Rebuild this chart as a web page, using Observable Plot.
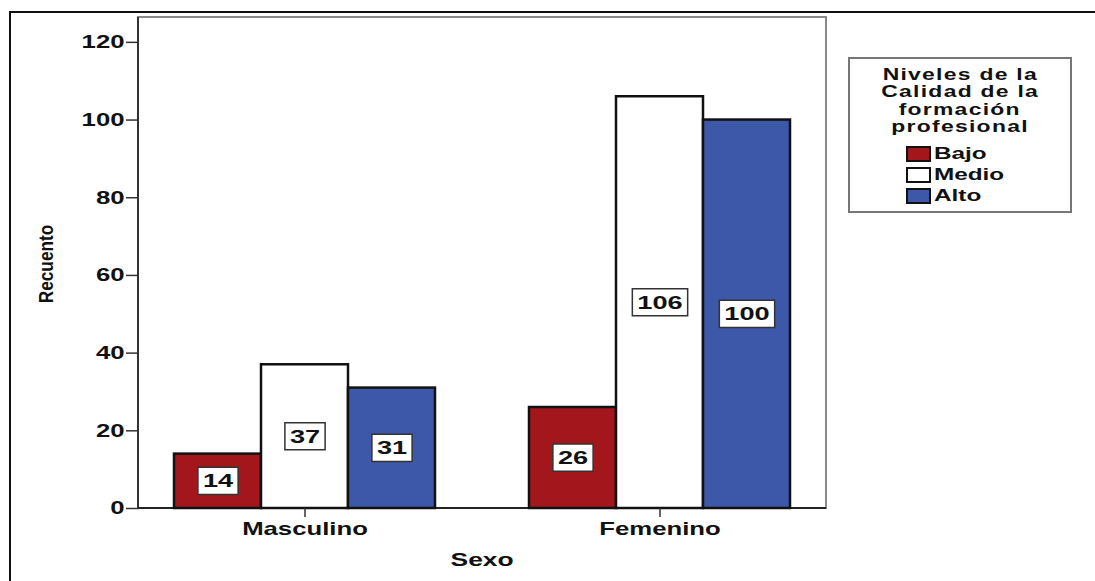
<!DOCTYPE html>
<html>
<head>
<meta charset="utf-8">
<script src="https://cdn.jsdelivr.net/npm/d3@7"></script>
<script src="https://cdn.jsdelivr.net/npm/@observablehq/plot@0.6"></script>
<style>
  html, body { margin: 0; padding: 0; background: #fff; }
  #wrap { position: relative; width: 1095px; height: 581px; overflow: hidden; background: #fff;
          font-family: "Liberation Sans", Arial, sans-serif; font-weight: bold; color: #111; }
  #pageborder { position: absolute; left: 9px; top: 11px; width: 1200px; height: 700px;
                border-left: 2px solid #111; border-top: 2px solid #111; }
  #chart { position: absolute; left: 0; top: 0; }
  .stretch { display: inline-block; transform: scaleX(1.43); white-space: nowrap; }
  #xlabel { position: absolute; left: 138px; width: 688px; top: 549px; text-align: center; font-size: 18.5px; line-height: 22px; }
  #ylabel { position: absolute; left: 46px; top: 264px; transform: translate(-50%, -50%) rotate(-90deg) scaleX(0.82);
            font-family: "Liberation Sans", Arial, sans-serif; font-size: 21px; white-space: nowrap; }
  #legend { position: absolute; left: 848px; top: 57px; width: 224px; height: 156px; box-sizing: border-box;
            border: 2px solid #777; }
  .ltitle { position: absolute; left: 0; width: 220px; text-align: center; font-size: 16px; letter-spacing: 0.9px; line-height: 17.4px; }
  .swatch { position: absolute; width: 25px; height: 16px; box-sizing: border-box; border: 2px solid #111; }
  .ltext { position: absolute; font-size: 17px; line-height: 20px; transform-origin: left center; }
</style>
</head>
<body>
<div id="wrap">
  <div id="pageborder"></div>
  <div id="chart"></div>
  <div id="xlabel"><span class="stretch">Sexo</span></div>
  <div id="ylabel">Recuento</div>
  <div id="legend"></div>
</div>
<script>
// ---- data ----
const sexos = ["Masculino", "Femenino"];
const niveles = ["Bajo", "Medio", "Alto"];
const bajo = [14, 26];
const medio = [37, 106];
const alto = [31, 100];
const colores = ["#A3171C", "#FFFFFF", "#3D58A9"];
const yTicks = [0, 20, 40, 60, 80, 100, 120];
const legendTitle = ["Niveles de la", "Calidad de la", "formación", "profesional"];

const series = [bajo, medio, alto];
const rows = [];
sexos.forEach((s, i) => niveles.forEach((n, j) => rows.push({sexo: s, nivel: n, value: series[j][i]})));

const W = 1095, H = 581, mL = 138, mR = 269, mT = 17, mB = 73;
const STRETCH = 1.43;

const plot = Plot.plot({
  width: W, height: H,
  marginLeft: mL, marginRight: mR, marginTop: mT, marginBottom: mB,
  style: {fontFamily: "'Liberation Sans', Arial, sans-serif", fontWeight: "bold", color: "#111", background: "transparent", overflow: "visible"},
  fx: {domain: sexos, paddingInner: 0.0674, paddingOuter: 0, label: null},
  x: {domain: niveles, paddingInner: 0, paddingOuter: 0.386, axis: null},
  y: {domain: [0, 126.4], label: null},
  color: {domain: niveles, range: colores},
  marks: [
    Plot.barY(rows, {fx: "sexo", x: "nivel", y: "value", fill: "nivel", stroke: "#111", strokeWidth: 2.5}),
    Plot.text(rows, {fx: "sexo", x: "nivel", y: d => d.value / 2, text: d => String(d.value), fontSize: 19, fill: "#111"}),
    Plot.axisY({ticks: yTicks, tickSize: 13, tickPadding: 2, fontSize: 18, label: null, stroke: "#333", strokeWidth: 1.5}),
    Plot.axisFx({anchor: "bottom", tickSize: 9, tickPadding: 5, fontSize: 18, label: null, stroke: "#333", strokeWidth: 1.5})
  ]
});
document.getElementById("chart").appendChild(plot);

const svg = d3.select(plot);
const ys = plot.scale("y");
const yBottom = ys.apply(0), yTop = ys.apply(ys.domain[1]);
const xLeft = mL, xRight = W - mR;

// plot frame (behind marks)
const frame = svg.insert("g", ":first-child").attr("aria-label", "frame");
frame.append("rect").attr("x", xLeft).attr("y", yTop).attr("width", xRight - xLeft).attr("height", yBottom - yTop)
  .attr("fill", "none").attr("stroke", "#8a8a8a").attr("stroke-width", 2);
frame.append("line").attr("x1", xLeft).attr("x2", xLeft).attr("y1", yTop).attr("y2", yBottom)
  .attr("stroke", "#333").attr("stroke-width", 2);
frame.append("line").attr("x1", xLeft).attr("x2", xRight).attr("y1", yBottom).attr("y2", yBottom)
  .attr("stroke", "#222").attr("stroke-width", 2);

// horizontally stretched text (as in the reference)
svg.selectAll("text").each(function () {
  const t = d3.select(this);
  const tr = t.attr("transform") || "";
  const xa = t.attr("x");
  if (xa != null && !isNaN(+xa)) t.attr("x", +xa / STRETCH);
  t.attr("transform", `${tr} scale(${STRETCH},1)`);
});

// white boxes behind value labels
svg.selectAll('g[aria-label="text"] text').each(function () {
  const b = this.getBBox();
  const padX = 5 / STRETCH, padY = 4;
  const r = document.createElementNS("http://www.w3.org/2000/svg", "rect");
  r.setAttribute("transform", this.getAttribute("transform"));
  r.setAttribute("x", b.x - padX);
  r.setAttribute("y", b.y - padY + 1);
  r.setAttribute("width", b.width + 2 * padX);
  r.setAttribute("height", b.height + 2 * padY - 2);
  r.setAttribute("fill", "#fff");
  r.setAttribute("stroke", "#333");
  r.setAttribute("stroke-width", 1.5);
  r.setAttribute("vector-effect", "non-scaling-stroke");
  this.parentNode.insertBefore(r, this);
});

// legend
const leg = document.getElementById("legend");
legendTitle.forEach((line, i) => {
  const d = document.createElement("div");
  d.className = "ltitle";
  d.style.top = (7 + i * 17.4) + "px";
  d.innerHTML = `<span class="stretch">${line}</span>`;
  leg.appendChild(d);
});
niveles.forEach((n, i) => {
  const cy = 95 + i * 21;
  const sw = document.createElement("div");
  sw.className = "swatch";
  sw.style.left = "56px";
  sw.style.top = (cy - 8) + "px";
  sw.style.background = colores[i];
  leg.appendChild(sw);
  const t = document.createElement("div");
  t.className = "ltext stretch";
  t.style.left = "84px";
  t.style.top = (cy - 10) + "px";
  t.textContent = n;
  leg.appendChild(t);
});
</script>
</body>
</html>
